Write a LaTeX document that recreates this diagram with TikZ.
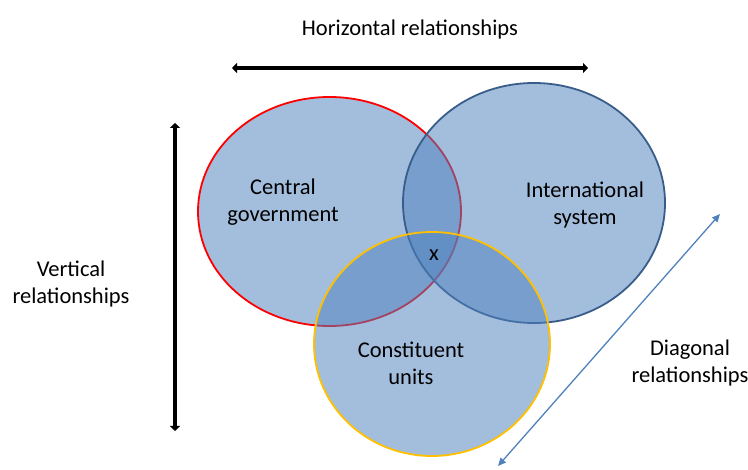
\documentclass[tikz,border=0pt]{standalone}
\usepackage{fontspec}
\setmainfont{Carlito}
\usetikzlibrary{arrows.meta}
\definecolor{ringfill}{HTML}{4F81BD}
\definecolor{ringblue}{HTML}{385D8A}
\definecolor{ringgold}{HTML}{FFC000}
\tikzset{
  ring/.style={fill=ringfill, fill opacity=0.52, line width=1.8pt},
  label/.style={black, font=\fontsize{22.5}{27}\selectfont, align=center},
  bigarrow/.style={{Triangle[length=5pt,width=10pt]}-{Triangle[length=5pt,width=10pt]}, draw=black, line width=4.5pt},
  slimarrow/.style={{Triangle[length=8pt,width=7pt]}-{Triangle[length=8pt,width=7pt]}, draw=ringfill, line width=1.3pt}
}

\begin{document}
\begin{tikzpicture}[x=1pt, y=-1pt]
  \useasboundingbox (0,0) rectangle (748,470);

  % Three overlapping spheres of government
  \draw[ring, draw=red] (329.5,211.5) ellipse [x radius=131.5, y radius=114.5];
  \draw[ring, draw=ringblue] (534,203) ellipse [x radius=131, y radius=120];
  \draw[ring, draw=ringgold] (432,344) ellipse [x radius=118, y radius=112];

  \node[label] (central) at (283,202) {Central\\government};
  \node[label] (intl) at (585,205) {International\\system};
  \node[label] (units) at (411,363) {Constituent\\units};
  \node[label] (cross) at (434,255) {x};

  % Relationship arrows
  \coordinate (H1) at (232,68);
  \coordinate (H2) at (588,68);
  \draw[bigarrow] (H1) -- (H2);
  \node[label] (horiz) at (410,30) {Horizontal relationships};

  \coordinate (V1) at (175,123);
  \coordinate (V2) at (175,431);
  \draw[bigarrow] (V1) -- (V2);
  \node[label] (vert) at (71,284) {Vertical\\relationships};

  \coordinate (D1) at (498,466);
  \coordinate (D2) at (720,214);
  \draw[slimarrow] (D1) -- (D2);
  \node[label] (diag) at (690,363) {Diagonal\\relationships};
\end{tikzpicture}
\end{document}
